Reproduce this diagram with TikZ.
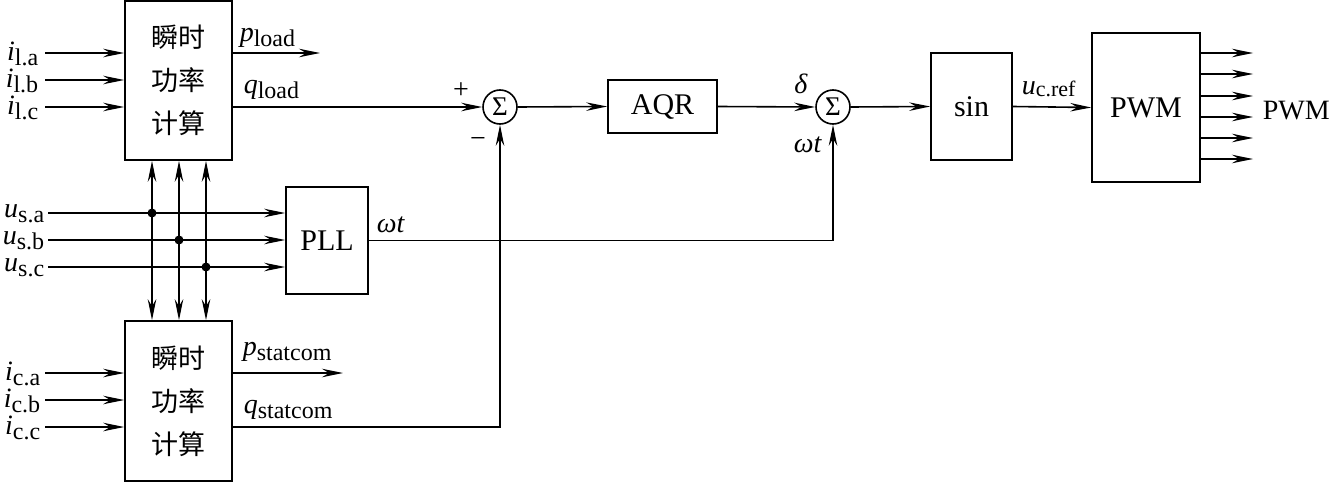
\documentclass[tikz,border=0pt]{standalone}
\usepackage{fontspec}
\setmainfont{Liberation Serif}
\newfontfamily\cjk{Noto Sans CJK SC}
\usetikzlibrary{arrows.meta}
\newcommand\lbl[2]{\textit{#1}\raisebox{-5pt}{\fontsize{24}{26}\selectfont #2}}
\begin{document}
\begin{tikzpicture}[x=1pt,y=-1pt, line width=1.6pt,
  tip/.tip={Stealth[length=21pt,width=8.5pt,inset=7pt]},
  arr/.style={-tip},
  darr/.style={tip-tip},
  blk/.style={draw, line width=1.6pt, inner sep=0pt, font=\fontsize{30}{32}\selectfont},
  cblk/.style={blk, align=center, font=\cjk\fontsize{27}{43}\selectfont},
  sumc/.style={draw, circle, minimum size=34pt, inner sep=0pt, font=\fontsize{27}{28}\selectfont},
  lab/.style={inner sep=0pt, font=\fontsize{28}{30}\selectfont},
  dot/.style={circle, fill, inner sep=0pt, minimum size=9pt}]
\useasboundingbox (0,0) rectangle (1337,495);

% blocks
\node[cblk, minimum width=107pt, minimum height=159pt] (top) at (178.5,80.5) {瞬时\\功率\\计算};
\node[cblk, minimum width=107pt, minimum height=160pt] (bot) at (178.5,401) {瞬时\\功率\\计算};
\node[blk, minimum width=82pt, minimum height=107pt] (pll) at (327,240.5) {PLL};
\node[blk, minimum width=109pt, minimum height=53pt] (aqr) at (662.5,106.5) {AQR};
\node[blk, minimum width=81pt, minimum height=107pt] (sin) at (971.5,106.5) {sin};
\node[blk, minimum width=108pt, minimum height=149pt] (pwm) at (1146,107.5) {PWM};
\node[sumc] (s1) at (500,107) {Σ};
\node[sumc] (s2) at (833,107) {Σ};

% top block inputs
\coordinate (ila) at (45,53);
\coordinate (ilb) at (45,80);
\coordinate (ilc) at (45,107);
\draw[arr] (ila) -- (ila -| top.west);
\draw[arr] (ilb) -- (ilb -| top.west);
\draw[arr] (ilc) -- (ilc -| top.west);
\node[lab, anchor=east] (tila) at (39,54) {\lbl{i}{l.a}};
\node[lab, anchor=east] (tilb) at (39,81) {\lbl{i}{l.b}};
\node[lab, anchor=east] (tilc) at (39,108) {\lbl{i}{l.c}};

% bottom block inputs
\coordinate (ica) at (45,373);
\coordinate (icb) at (45,400);
\coordinate (icc) at (45,427);
\draw[arr] (ica) -- (ica -| bot.west);
\draw[arr] (icb) -- (icb -| bot.west);
\draw[arr] (icc) -- (icc -| bot.west);
\node[lab, anchor=east] (tica) at (41,374) {\lbl{i}{c.a}};
\node[lab, anchor=east] (ticb) at (41,401) {\lbl{i}{c.b}};
\node[lab, anchor=east] (ticc) at (41,428) {\lbl{i}{c.c}};

% voltage inputs
\coordinate (usa) at (48,213);
\coordinate (usb) at (48,240);
\coordinate (usc) at (48,267);
\draw[arr] (usa) -- (usa -| pll.west);
\draw[arr] (usb) -- (usb -| pll.west);
\draw[arr] (usc) -- (usc -| pll.west);
\node[lab, anchor=east] (tusa) at (45,214) {\lbl{u}{s.a}};
\node[lab, anchor=east] (tusb) at (45,241) {\lbl{u}{s.b}};
\node[lab, anchor=east] (tusc) at (45,268) {\lbl{u}{s.c}};

% vertical double arrows
\coordinate (va) at (152,0);
\coordinate (vb) at (179,0);
\coordinate (vc) at (206,0);
\draw[darr] (va |- top.south) -- (va |- bot.north);
\draw[darr] (vb |- top.south) -- (vb |- bot.north);
\draw[darr] (vc |- top.south) -- (vc |- bot.north);
\node[dot] (da) at (va |- usa) {};
\node[dot] (db) at (vb |- usb) {};
\node[dot] (dc) at (vc |- usc) {};

% top block outputs
\coordinate (pl) at (320,53);
\draw[arr] (top.east |- pl) -- (pl);
\node[lab, anchor=west] (tpl) at (239,38) {\lbl{p}{load}};
\draw[arr] (top.east |- s1) -- (s1.west);
\node[lab, anchor=west] (tql) at (243,90) {\lbl{q}{load}};
\node[lab] (plus) at (461,91) {+};
\node[lab] (minus) at (478,143) {−};

% bottom block outputs
\coordinate (ps) at (343,373);
\draw[arr] (bot.east |- ps) -- (ps);
\node[lab, anchor=west] (tps) at (242,352) {\lbl{p}{statcom}};
\draw[arr] (bot.east |- 0,427) -| (s1.south);
\node[lab, anchor=west] (tqs) at (243,410) {\lbl{q}{statcom}};

% main chain
\draw[arr] (s1.east) -- (aqr.west);
\draw[arr] (aqr.east) -- (s2.west);
\node[lab] (tdel) at (801,84) {\textit{δ}};
\draw[arr] (pll.east) -| (s2.south);
\node[lab, anchor=west] (twt1) at (376,225) {\textit{ωt}};
\node[lab] (twt2) at (808,145) {\textit{ωt}};
\draw[arr] (s2.east) -- (sin.west);
\draw[arr] (sin.east) -- (pwm.west);
\node[lab, anchor=west] (tuc) at (1021,89) {\textit{u}\raisebox{-2pt}{\fontsize{22}{24}\selectfont c.ref}};

% PWM outputs
\foreach \y [count=\i] in {53,74,96,117,138,159}{
  \coordinate (po\i) at (1253,\y);
  \draw[arr] (pwm.east |- po\i) -- (po\i);
}
\node[lab, anchor=west] (tpwm) at (1262,111) {PWM};
\end{tikzpicture}
\end{document}
